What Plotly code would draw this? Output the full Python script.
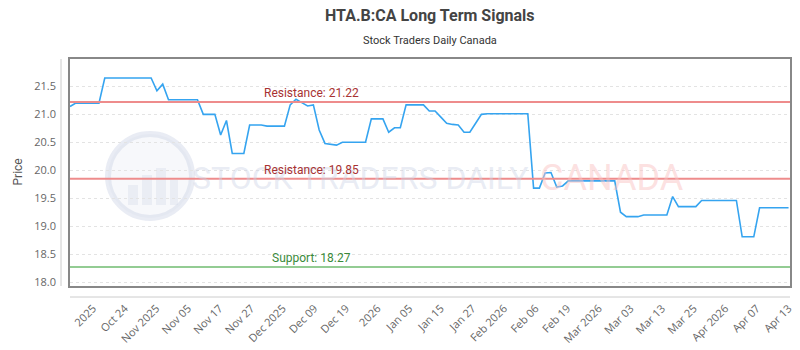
import numpy as np
import plotly.graph_objects as go

# ---- data ----
prices = [
    21.14, 21.20, 21.20, 21.20, 21.20, 21.20, 21.65, 21.65, 21.65, 21.65,
    21.65, 21.65, 21.65, 21.65, 21.65, 21.42, 21.54, 21.26, 21.26, 21.26,
    21.26, 21.26, 21.26, 21.00, 21.00, 21.00, 20.63, 20.89, 20.30, 20.30,
    20.30, 20.81, 20.81, 20.81, 20.79, 20.79, 20.79, 20.79, 21.17, 21.27,
    21.21, 21.15, 21.17, 20.72, 20.48, 20.47, 20.45, 20.50, 20.50, 20.50,
    20.50, 20.50, 20.92, 20.92, 20.92, 20.68, 20.76, 20.76, 21.17, 21.17,
    21.17, 21.17, 21.06, 21.06, 20.95, 20.84, 20.82, 20.81, 20.68, 20.68,
    20.84, 21.00, 21.01, 21.01, 21.01, 21.01, 21.01, 21.01, 21.01, 21.01,
    19.68, 19.68, 19.95, 19.96, 19.70, 19.72, 19.81, 19.81, 19.81, 19.81,
    19.81, 19.81, 19.81, 19.81, 19.81, 19.25, 19.17, 19.17, 19.17, 19.20,
    19.20, 19.20, 19.20, 19.20, 19.53, 19.35, 19.35, 19.35, 19.35, 19.46,
    19.46, 19.46, 19.46, 19.46, 19.46, 19.46, 18.81, 18.81, 18.81, 19.33,
    19.33, 19.33, 19.33, 19.33, 19.33,
]
tick_labels = [
    "2025", "Oct 24", "Nov 2025", "Nov 05", "Nov 17", "Nov 27", "Dec 2025",
    "Dec 09", "Dec 19", "2026", "Jan 05", "Jan 15", "Jan 27", "Feb 2026",
    "Feb 06", "Feb 19", "Mar 2026", "Mar 03", "Mar 13", "Mar 25",
    "Apr 2026", "Apr 07", "Apr 13",
]
resistance_levels = [21.22, 19.85]
support_levels = [18.27]
y_ticks = [18.0, 18.5, 19.0, 19.5, 20.0, 20.5, 21.0, 21.5]

title_text = "HTA.B:CA Long Term Signals"
subtitle_text = "Stock Traders Daily Canada"

# ---- figure ----
n = len(prices)
x = list(range(n))
tickvals = list(np.linspace(4, n - 1, len(tick_labels)))

fig = go.Figure()
fig.add_trace(go.Scatter(
    x=x, y=prices, mode="lines",
    line=dict(color="#35a4f0", width=1.6),
    hoverinfo="y", showlegend=False,
))

shapes = []
annotations = []

def px_x(p):
    return (p - 70) / 720

def px_y(p):
    return (286 - p) / 227

# watermark logo
shapes.append(dict(type="circle", xref="paper", yref="paper",
                   x0=px_x(108), x1=px_x(192), y0=px_y(218), y1=px_y(134),
                   line=dict(color="rgba(200,208,228,0.4)", width=6),
                   fillcolor="rgba(228,232,243,0.3)", layer="below"))
for bx0, bx1, btop in [(128, 138, 185), (142, 152, 175), (156, 166, 168), (170, 178, 180)]:
    shapes.append(dict(type="rect", xref="paper", yref="paper",
                       x0=px_x(bx0), x1=px_x(bx1), y0=px_y(205), y1=px_y(btop),
                       line=dict(width=0), fillcolor="rgba(205,212,230,0.3)", layer="below"))
annotations.append(dict(xref="paper", yref="paper", x=px_x(530),
                        y=px_y(178), xanchor="right", yanchor="middle",
                        text="STOCK TRADERS DAILY", showarrow=False,
                        font=dict(family="Roboto", size=32,
                                  color="rgba(205,212,230,0.45)")))
annotations.append(dict(xref="paper", yref="paper", x=px_x(538),
                        y=px_y(178), xanchor="left", yanchor="middle",
                        text="CANADA", showarrow=False,
                        font=dict(family="Roboto", size=36,
                                  color="rgba(250,195,195,0.5)")))

for lvl in resistance_levels:
    shapes.append(dict(type="line", xref="paper", x0=0, x1=1, yref="y", y0=lvl, y1=lvl,
                       line=dict(color="#ee8c8c", width=2)))
    annotations.append(dict(xref="paper", x=0.335, yref="y", y=lvl, yanchor="bottom",
                            yshift=0, text=f"Resistance: {lvl:.2f}", showarrow=False,
                            font=dict(family="Roboto", size=12, color="#a83232")))
for lvl in support_levels:
    shapes.append(dict(type="line", xref="paper", x0=0, x1=1, yref="y", y0=lvl, y1=lvl,
                       line=dict(color="#93cc93", width=2)))
    annotations.append(dict(xref="paper", x=0.335, yref="y", y=lvl, yanchor="bottom",
                            yshift=0, text=f"Support: {lvl:.2f}", showarrow=False,
                            font=dict(family="Roboto", size=12, color="#3a8a3a")))

# offset axis lines
shapes.append(dict(type="line", xref="paper", x0=0, x1=1, yref="paper",
                   y0=px_y(297), y1=px_y(297),
                   line=dict(color="#cccccc", width=1)))
shapes.append(dict(type="line", xref="paper", x0=px_x(61), x1=px_x(61),
                   yref="paper", y0=0, y1=1,
                   line=dict(color="#cccccc", width=1)))

annotations.append(dict(xref="paper", yref="paper", x=0.5, y=px_y(15),
                        xanchor="center", yanchor="middle", text=f"<b>{title_text}</b>",
                        showarrow=False, font=dict(family="Roboto", size=16, color="#444444")))
annotations.append(dict(xref="paper", yref="paper", x=0.5, y=px_y(40),
                        xanchor="center", yanchor="middle", text=subtitle_text,
                        showarrow=False, font=dict(family="Roboto", size=11, color="#333333")))
annotations.append(dict(xref="paper", yref="paper", x=px_x(17), y=0.5,
                        xanchor="center", yanchor="middle", text="Price", textangle=-90,
                        showarrow=False, font=dict(family="Roboto", size=12, color="#555555")))

fig.update_layout(
    width=800, height=350,
    margin=dict(l=70, r=10, t=59, b=64),
    paper_bgcolor="white", plot_bgcolor="white",
    shapes=shapes, annotations=annotations,
    xaxis=dict(range=[0, 124.25], tickmode="array", tickvals=tickvals, ticktext=tick_labels,
               tickangle=-45, ticks="outside", ticklen=10, tickcolor="rgba(0,0,0,0)",
               showgrid=False, zeroline=False, showline=True, mirror=True,
               linecolor="#888888", linewidth=1.5, automargin=False,
               tickfont=dict(family="Open Sans", size=11, color="#666666")),
    yaxis=dict(range=[17.93, 21.99], tickmode="array", tickvals=y_ticks,
               ticktext=[f"{v:.1f}" for v in y_ticks],
               ticks="outside", ticklen=10, tickcolor="rgba(0,0,0,0)",
               showgrid=True, gridcolor="#e3e3e3", griddash="dot", gridwidth=1,
               zeroline=False, showline=True, mirror=True, automargin=False,
               linecolor="#888888", linewidth=1.5,
               tickfont=dict(family="Open Sans", size=11, color="#666666")),
)

fig.write_html("out.html")
